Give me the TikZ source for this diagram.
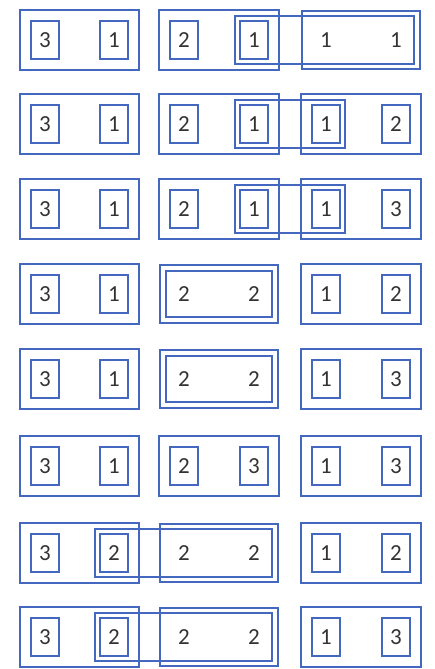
\documentclass[tikz,border=0pt]{standalone}
\usepackage{fontspec}
\setmainfont{Carlito}
\usetikzlibrary{fit}
\definecolor{pen}{HTML}{4468C0}
\definecolor{ink}{HTML}{333333}
\tikzset{
  dig/.style={text=ink,font=\fontsize{23}{26}\selectfont,minimum width=28pt,minimum height=38pt,inner sep=0pt},
  bdig/.style={dig,draw=pen,line width=2pt},
  pairbox/.style={draw=pen,line width=2pt,inner sep=10pt},
  spanbox/.style={draw=pen,line width=2pt,inner sep=4pt},
}
\newcommand{\dg}[1]{\raisebox{-3pt}{#1}}
\begin{document}
\begin{tikzpicture}[x=1pt,y=1pt]
\useasboundingbox (0,0) rectangle (434,-669);
% row 1
\node[bdig] (a1) at (45,-40) {\dg{3}};
\node[bdig] (a2) at (114,-40) {\dg{1}};
\node[bdig] (a3) at (184,-40) {\dg{2}};
\node[bdig] (a4) at (254,-40) {\dg{1}};
\node[dig] (a5) at (326,-40) {\dg{1}};
\node[dig] (a6) at (396,-40) {\dg{1}};
\node[pairbox,fit=(a1)(a2)] (pa1) {};
\node[pairbox,fit=(a3)(a4)] (pa2) {};
\node[pairbox,fit=(a5)(a6)] (pa3) {};
\node[spanbox,fit=(a4)(a6)] (sa) {};
% row 2
\node[bdig] (b1) at (45,-124) {\dg{3}};
\node[bdig] (b2) at (114,-124) {\dg{1}};
\node[bdig] (b3) at (184,-124) {\dg{2}};
\node[bdig] (b4) at (254,-124) {\dg{1}};
\node[bdig] (b5) at (326,-124) {\dg{1}};
\node[bdig] (b6) at (396,-124) {\dg{2}};
\node[pairbox,fit=(b1)(b2)] (pb1) {};
\node[pairbox,fit=(b3)(b4)] (pb2) {};
\node[pairbox,fit=(b5)(b6)] (pb3) {};
\node[spanbox,fit=(b4)(b5)] (sb) {};
% row 3
\node[bdig] (c1) at (45,-209) {\dg{3}};
\node[bdig] (c2) at (114,-209) {\dg{1}};
\node[bdig] (c3) at (184,-209) {\dg{2}};
\node[bdig] (c4) at (254,-209) {\dg{1}};
\node[bdig] (c5) at (326,-209) {\dg{1}};
\node[bdig] (c6) at (396,-209) {\dg{3}};
\node[pairbox,fit=(c1)(c2)] (pc1) {};
\node[pairbox,fit=(c3)(c4)] (pc2) {};
\node[pairbox,fit=(c5)(c6)] (pc3) {};
\node[spanbox,fit=(c4)(c5)] (sc) {};
% row 4
\node[bdig] (d1) at (45,-294) {\dg{3}};
\node[bdig] (d2) at (114,-294) {\dg{1}};
\node[dig] (d3) at (184,-294) {\dg{2}};
\node[dig] (d4) at (254,-294) {\dg{2}};
\node[bdig] (d5) at (326,-294) {\dg{1}};
\node[bdig] (d6) at (396,-294) {\dg{2}};
\node[pairbox,fit=(d1)(d2)] (pd1) {};
\node[pairbox,fit=(d3)(d4)] (pd2) {};
\node[spanbox,fit=(d3)(d4)] (sd) {};
\node[pairbox,fit=(d5)(d6)] (pd3) {};
% row 5
\node[bdig] (e1) at (45,-379) {\dg{3}};
\node[bdig] (e2) at (114,-379) {\dg{1}};
\node[dig] (e3) at (184,-379) {\dg{2}};
\node[dig] (e4) at (254,-379) {\dg{2}};
\node[bdig] (e5) at (326,-379) {\dg{1}};
\node[bdig] (e6) at (396,-379) {\dg{3}};
\node[pairbox,fit=(e1)(e2)] (pe1) {};
\node[pairbox,fit=(e3)(e4)] (pe2) {};
\node[spanbox,fit=(e3)(e4)] (se) {};
\node[pairbox,fit=(e5)(e6)] (pe3) {};
% row 6
\node[bdig] (f1) at (45,-466) {\dg{3}};
\node[bdig] (f2) at (114,-466) {\dg{1}};
\node[bdig] (f3) at (184,-466) {\dg{2}};
\node[bdig] (f4) at (254,-466) {\dg{3}};
\node[bdig] (f5) at (326,-466) {\dg{1}};
\node[bdig] (f6) at (396,-466) {\dg{3}};
\node[pairbox,fit=(f1)(f2)] (pf1) {};
\node[pairbox,fit=(f3)(f4)] (pf2) {};
\node[pairbox,fit=(f5)(f6)] (pf3) {};
% row 7
\node[bdig] (g1) at (45,-553) {\dg{3}};
\node[bdig] (g2) at (114,-553) {\dg{2}};
\node[dig] (g3) at (184,-553) {\dg{2}};
\node[dig] (g4) at (254,-553) {\dg{2}};
\node[bdig] (g5) at (326,-553) {\dg{1}};
\node[bdig] (g6) at (396,-553) {\dg{2}};
\node[pairbox,fit=(g1)(g2)] (pg1) {};
\node[pairbox,fit=(g3)(g4)] (pg2) {};
\node[pairbox,fit=(g5)(g6)] (pg3) {};
\node[spanbox,fit=(g2)(g4)] (sg) {};
% row 8
\node[bdig] (h1) at (45,-637) {\dg{3}};
\node[bdig] (h2) at (114,-637) {\dg{2}};
\node[dig] (h3) at (184,-637) {\dg{2}};
\node[dig] (h4) at (254,-637) {\dg{2}};
\node[bdig] (h5) at (326,-637) {\dg{1}};
\node[bdig] (h6) at (396,-637) {\dg{3}};
\node[pairbox,fit=(h1)(h2)] (ph1) {};
\node[pairbox,fit=(h3)(h4)] (ph2) {};
\node[pairbox,fit=(h5)(h6)] (ph3) {};
\node[spanbox,fit=(h2)(h4)] (sh) {};
\end{tikzpicture}
\end{document}
